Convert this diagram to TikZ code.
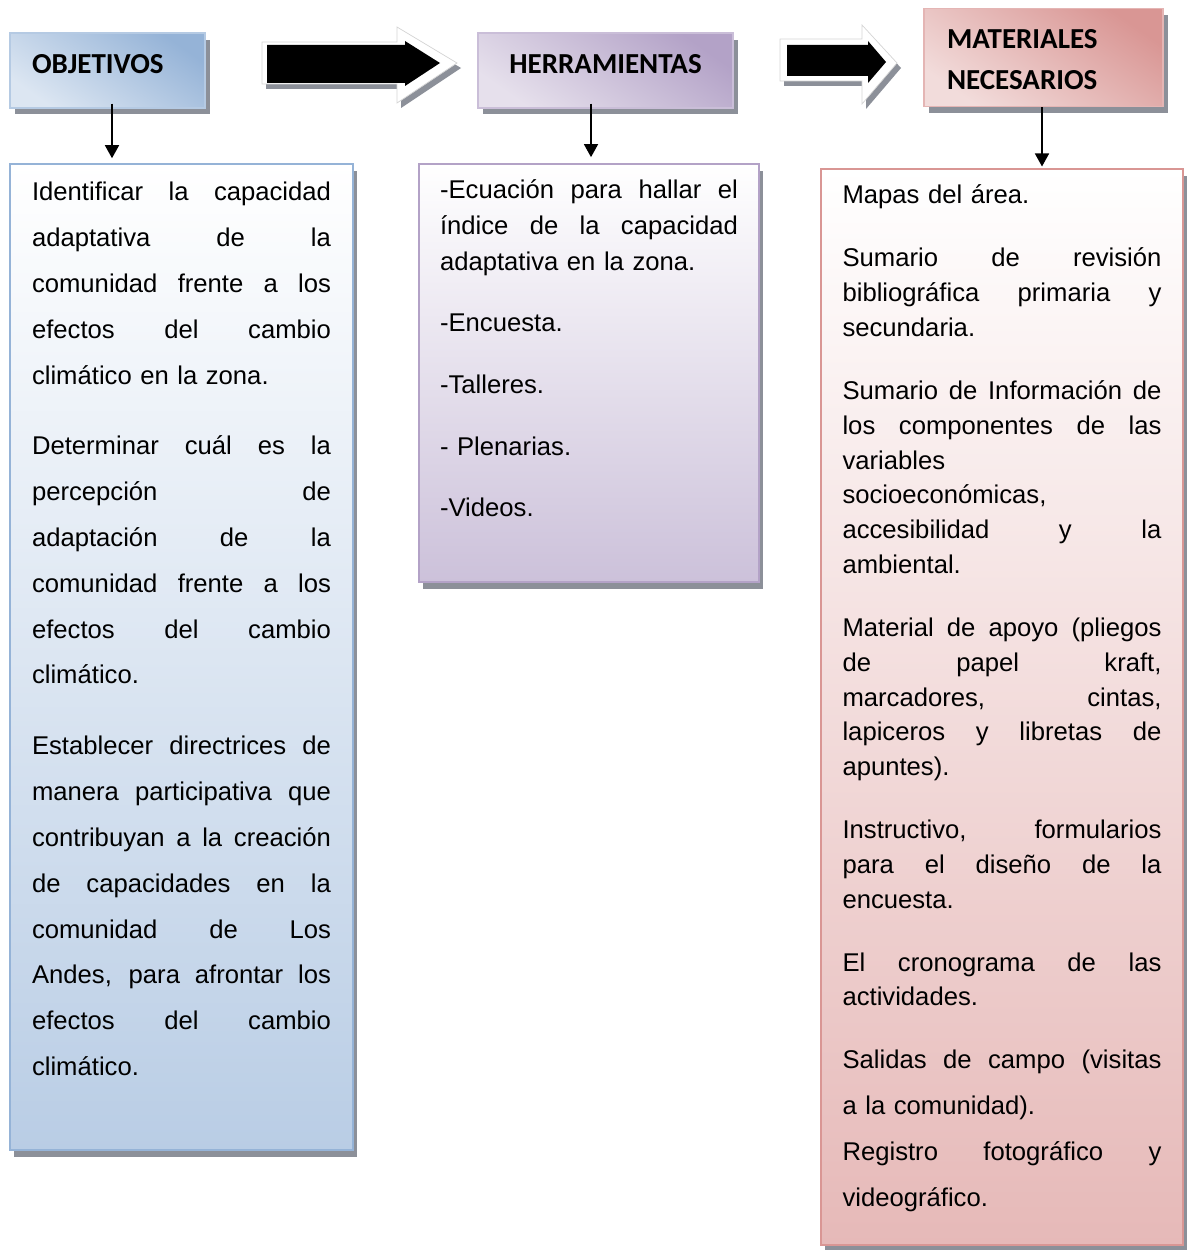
\documentclass[tikz,border=0pt]{standalone}
\usepackage{fontspec}
\setmainfont{Liberation Sans}
\newfontfamily\hdrfont{Carlito}
\usetikzlibrary{arrows.meta,shadows}
\definecolor{objdark}{HTML}{95B3D7} \definecolor{objlight}{HTML}{DCE6F2} \definecolor{objend}{HTML}{B9CDE5}
\definecolor{herrdark}{HTML}{B3A2C7} \definecolor{herrlight}{HTML}{E6E0EC} \definecolor{herrend}{HTML}{CCC1DA}
\definecolor{matdark}{HTML}{D99694} \definecolor{matlight}{HTML}{F2DCDB} \definecolor{matend}{HTML}{E6B9B8}
\definecolor{shadowgray}{HTML}{8C9099} \definecolor{arrowedge}{HTML}{D5D5D5}
\newlength{\jw}
\newcommand{\jline}[1]{\leavevmode\hbox to\jw{\spaceskip=\fontdimen2\font plus 1fil\relax #1}}
\tikzset{
  hdrbox/.style={draw=#1dark!70, line width=0.8pt, top color=#1dark, bottom color=#1light, shading angle=-35, inner ysep=0pt,
    drop shadow={fill=shadowgray, opacity=1, shadow xshift=0.1cm, shadow yshift=-0.13cm}},
  listbox/.style={draw=#1dark, line width=0.8pt, top color=white, bottom color=#1end, inner ysep=0pt, align=left,
    drop shadow={fill=shadowgray, opacity=1, shadow xshift=0.08cm, shadow yshift=-0.14cm}},
  conn/.style={-{Triangle[width=0.28cm,length=0.26cm]}, line width=0.9pt}
}
\begin{document}
\begin{tikzpicture}[x=0.02cm, y=-0.02cm]
\useasboundingbox (0,0) rectangle (1188,1250);
% block arrows between the headers
\fill[shadowgray] (266,47) -- (401,47) -- (401,32) -- (461,68) -- (401,108) -- (401,89) -- (266,89) -- cycle;
\filldraw[fill=white, draw=arrowedge] (262,42) -- (397,42) -- (397,27) -- (457,63) -- (397,103) -- (397,84) -- (262,84) -- cycle;
\fill[black] (267,45) -- (405,45) -- (405,41) -- (440,63) -- (405,86) -- (405,83) -- (267,83) -- cycle;
\fill[shadowgray] (784,44) -- (866,44) -- (866,30) -- (901,68) -- (866,109) -- (866,86) -- (784,86) -- cycle;
\filldraw[fill=white, draw=arrowedge] (780,39) -- (862,39) -- (862,25) -- (897,63) -- (862,104) -- (862,81) -- (780,81) -- cycle;
\fill[black] (787,45) -- (868,45) -- (868,41) -- (886,62) -- (868,83) -- (868,76) -- (787,76) -- cycle;
% headers
\node[hdrbox=obj, text width=3.02cm, inner xsep=0.44cm, text height=22.9pt, text depth=19.6pt, align=left,
  font=\hdrfont\bfseries\fontsize{16.5}{23.2}\selectfont] (obj) at (107.5,70.5) {OBJETIVOS};
\node[hdrbox=herr, minimum width=5.1cm, text height=22.9pt, text depth=19.6pt,
  font=\hdrfont\bfseries\fontsize{16.5}{23.2}\selectfont] (herr) at (605.5,70.5) {HERRAMIENTAS};
\node[hdrbox=mat, text width=3.86cm, inner xsep=0.46cm, text height=23.2pt, text depth=32.9pt, align=left,
  font=\hdrfont\bfseries\fontsize{16.5}{23.2}\selectfont] (mat) at (1043.5,57.5) {MATERIALES\\NECESARIOS};
% lists
\node[listbox=obj, text width=5.98cm, inner xsep=0.44cm, text height=21pt, text depth=540.3pt,
  font=\fontsize{14.6}{26.08}\selectfont] (objbox) at (181.5,657) {\setlength{\jw}{5.98cm}%
  \jline{Identificar la capacidad}\\ \jline{adaptativa de la}\\ \jline{comunidad frente a los}\\ \jline{efectos del cambio}\\ climático en la zona.\\[14.2pt]
  \jline{Determinar cuál es la}\\ \jline{percepción de}\\ \jline{adaptación de la}\\ \jline{comunidad frente a los}\\ \jline{efectos del cambio}\\ climático.\\[14.2pt]
  \jline{Establecer directrices de}\\ \jline{manera participativa que}\\ \jline{contribuyan a la creación}\\ \jline{de capacidades en la}\\ \jline{comunidad de Los}\\ \jline{Andes, para afrontar los}\\ \jline{efectos del cambio}\\ climático.};
\node[listbox=herr, text width=5.96cm, inner xsep=0.42cm, text height=19.8pt, text depth=218.3pt,
  font=\fontsize{14.6}{20.4}\selectfont] (herrbox) at (589,373) {\setlength{\jw}{5.96cm}%
  \jline{-Ecuación para hallar el}\\ \jline{índice de la capacidad}\\ adaptativa en la zona.\\[14.7pt]
  -Encuesta.\\[14.7pt] -Talleres.\\[14.7pt] - Plenarias.\\[14.7pt] -Videos.};
\node[listbox=mat, text width=6.38cm, inner xsep=0.43cm, text height=19.8pt, text depth=592.4pt,
  font=\fontsize{14.6}{19.84}\selectfont] (matbox) at (1002,707) {\setlength{\jw}{6.38cm}%
  Mapas del área.\\[15.9pt]
  \jline{Sumario de revisión}\\ \jline{bibliográfica primaria y}\\ secundaria.\\[15.9pt]
  \jline{Sumario de Información de}\\ \jline{los componentes de las}\\ variables\\ socioeconómicas,\\ \jline{accesibilidad y la}\\ ambiental.\\[15.9pt]
  \jline{Material de apoyo (pliegos}\\ \jline{de papel kraft,}\\ \jline{marcadores, cintas,}\\ \jline{lapiceros y libretas de}\\ apuntes).\\[15.9pt]
  \jline{Instructivo, formularios}\\ \jline{para el diseño de la}\\ encuesta.\\[15.9pt]
  \jline{El cronograma de las}\\ actividades.\\[15.9pt]
  \jline{Salidas de campo (visitas}\\[6.2pt] a la comunidad).\\[6.2pt]
  \jline{Registro fotográfico y}\\[6.2pt] videográfico.};
% connectors
\draw[conn, shorten >=0.1cm] ([xshift=0.09cm,yshift=0.1cm]obj.south) coordinate (objfoot) -- (objfoot |- objbox.north);
\draw[conn, shorten >=0.12cm] ([xshift=-0.29cm,yshift=0.1cm]herr.south) coordinate (herrfoot) -- (herrfoot |- herrbox.north);
\draw[conn, shorten >=0.04cm] ([xshift=-0.03cm]mat.south) coordinate (matfoot) -- (matfoot |- matbox.north);
\end{tikzpicture}
\end{document}
